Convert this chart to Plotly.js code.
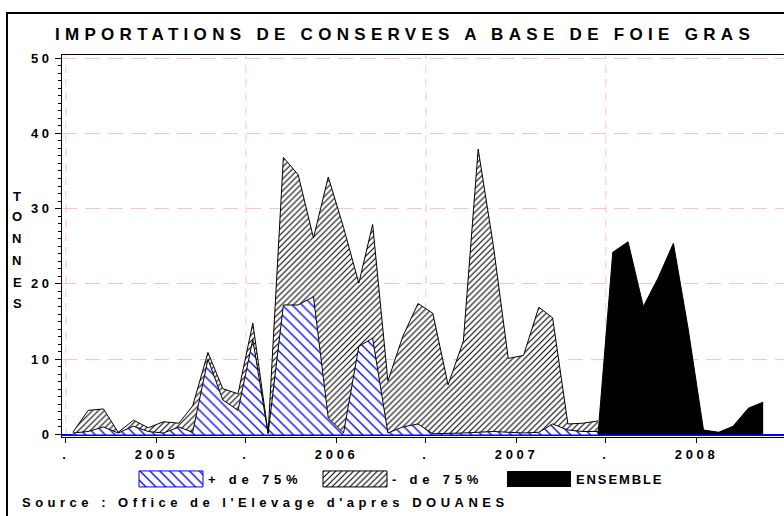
<!DOCTYPE html>
<html>
<head>
<meta charset="utf-8">
<script src="https://cdn.plot.ly/plotly-3.0.1.min.js"></script>
<style>
html, body { margin:0; padding:0; overflow:hidden; background:#fff; width:784px; height:516px; }
#chart { position:absolute; left:0; top:0; width:860px; height:540px; }
#frame { position:absolute; left:6px; top:12px; width:1000px; height:1000px; border:2px solid #000; pointer-events:none; }
#chart text { font-weight: 700 !important; }
.gtitle { letter-spacing: 5.3px; }
.ytick text { letter-spacing: 3.5px; }
.xtick text { letter-spacing: 3.7px; }
.legendtext { letter-spacing: 4.8px; }
.legend .traces:nth-of-type(3) .legendtext { letter-spacing: 1.9px; }
.annotation-text { letter-spacing: 4.5px; }
.legend .legendfill path { d: path("M1,-8h64v16h-64z"); }
.legend .traces:nth-of-type(1) .legendfill path { stroke:#0000ff !important; stroke-width:1px !important; stroke-opacity:1 !important; }
.legend .traces:nth-of-type(2) .legendfill path { stroke:#000 !important; stroke-width:1px !important; stroke-opacity:1 !important; }
.legend .legendlines path { display:none; }
</style>
</head>
<body>
<div id="chart"></div>
<div id="frame"></div>
<script>
// Months (monthly data, July 2004 - May 2008)
const months = [
  "2004-07","2004-08","2004-09","2004-10","2004-11","2004-12",
  "2005-01","2005-02","2005-03","2005-04","2005-05","2005-06",
  "2005-07","2005-08","2005-09","2005-10","2005-11","2005-12",
  "2006-01","2006-02","2006-03","2006-04","2006-05","2006-06",
  "2006-07","2006-08","2006-09","2006-10","2006-11","2006-12",
  "2007-01","2007-02","2007-03","2007-04","2007-05","2007-06",
  "2007-07","2007-08","2007-09","2007-10","2007-11","2007-12",
  "2008-01","2008-02","2008-03","2008-04","2008-05"
];
// "+ de 75%" (tonnes), 2004-07 .. 2007-06
const plus75 = [
  0.2, 0.4, 1.0, 0.2, 1.1, 0.4,
  0.2, 1.0, 0.3, 10.0, 4.6, 3.2,
  12.6, 0.1, 17.2, 17.2, 18.3, 2.2,
  0.2, 11.7, 12.8, 0.2, 1.0, 1.4,
  0.1, 0.1, 0.2, 0.3, 0.4, 0.3,
  0.2, 0.3, 1.4, 0.6, 0.4, 0.4
];
// "- de 75%" (tonnes), stacked on top, 2004-07 .. 2007-06
const minus75 = [
  0.1, 2.8, 2.4, 0.1, 0.8, 0.5,
  1.5, 0.5, 3.5, 0.9, 1.5, 2.2,
  2.2, 0.1, 19.6, 17.3, 7.8, 32.0,
  27.3, 8.4, 15.1, 6.9, 12.0, 16.0,
  16.0, 6.5, 12.2, 37.6, 24.6, 9.8,
  10.3, 16.6, 14.1, 0.8, 1.1, 1.4
];
// "ENSEMBLE" (tonnes), 2007-06 .. 2008-05
const ensemble = [0, 24.2, 25.6, 17.0, 20.8, 25.4, 14.0, 0.6, 0.3, 1.1, 3.5, 4.3];

// Axis ticks
const xTickVals = ["2004-07-01","2005-01-01","2005-07-01","2006-01-01","2006-07-01","2007-01-01","2007-07-01","2008-01-01"];
const xTickText = [".", "2005", ".", "2006", ".", "2007", ".", "2008"];
const xGridVals = ["2004-07-01","2005-07-01","2006-07-01","2007-07-01"];
const yTitleLetters = "TONNES";
const titleText = "IMPORTATIONS DE CONSERVES A BASE DE FOIE GRAS";
const sourceText = "Source : Office de l'Elevage d'apres DOUANES";
const seriesNames = ["+ de 75%", "- de 75%", "ENSEMBLE"];

const FONT = "Liberation Sans, Arial, sans-serif";
const PINK = "#ffc0cb";

const nSplit = plus75.length;
const xA = months.slice(0, nSplit).map(m => m + "-15");
const xB = months.slice(nSplit - 1).map(m => m + "-15");

const traces = [
  {
    type: "scatter", mode: "lines", name: seriesNames[0],
    x: xA, y: plus75, stackgroup: "s",
    line: {color: "#000", width: 1},
    fillcolor: "#0000ff",
    fillpattern: {shape: "\\", fgcolor: "#0000ff", bgcolor: "#ffffff", size: 7, solidity: 0.19},
    hoverinfo: "skip"
  },
  {
    type: "scatter", mode: "lines", name: seriesNames[1],
    x: xA, y: minus75, stackgroup: "s",
    line: {color: "#000", width: 1},
    fillcolor: "#000",
    fillpattern: {shape: "/", fgcolor: "#000000", bgcolor: "#ffffff", size: 4.2, solidity: 0.26},
    hoverinfo: "skip"
  },
  {
    type: "scatter", mode: "lines", name: seriesNames[2],
    x: xB, y: ensemble, fill: "tozeroy",
    line: {color: "#000", width: 1},
    fillcolor: "#000000",
    hoverinfo: "skip"
  }
];

const H = 540, MT = 55, MB = 103, ML = 62, MR = 50, W = 860;
const plotH = H - MT - MB, plotW = W - ML - MR;
const py = px => (H - MB - px) / plotH;   // pixel row -> paper y
const pxX = px => (px - ML) / plotW;      // pixel col -> paper x

const letterRows = [196, 217, 239, 260, 282, 303];
const BOLD = {family: FONT, size: 13, color: "#000", weight: 700};
const annotations = yTitleLetters.split("").map((ch, i) => ({
  text: ch, xref: "paper", yref: "paper",
  x: pxX(19), y: py(letterRows[i]), xanchor: "center", yanchor: "middle",
  showarrow: false, font: BOLD
}));
annotations.push({
  text: sourceText, xref: "paper", yref: "paper",
  x: pxX(20), y: py(502), xanchor: "left", yanchor: "middle",
  showarrow: false, font: BOLD
});

const shapes = xGridVals.map(d => ({
  type: "line", xref: "x", yref: "paper", x0: d, x1: d, y0: 0, y1: 1,
  layer: "below", line: {color: PINK, width: 1, dash: "8px,6px"}
}));

const layout = {
  width: W, height: H,
  margin: {l: ML, r: MR, t: MT, b: MB},
  paper_bgcolor: "#fff", plot_bgcolor: "#fff",
  font: BOLD,
  title: {
    text: titleText, xref: "container", yref: "container",
    x: 405 / W, y: 1 - 34 / H, xanchor: "center", yanchor: "middle",
    font: {family: FONT, size: 17, color: "#000", weight: 700}
  },
  showlegend: true,
  legend: {
    orientation: "h", xref: "container", yref: "container",
    x: 138 / W, y: 1 - 464 / H, xanchor: "left", yanchor: "top",
    itemwidth: 60, entrywidth: 109, traceorder: "normal",
    font: BOLD,
    bgcolor: "rgba(0,0,0,0)", borderwidth: 0
  },
  xaxis: {
    type: "date", range: ["2004-06-23", "2008-08-18"],
    tickmode: "array", tickvals: xTickVals, ticktext: xTickText,
    ticks: "outside", ticklen: 5, tickwidth: 1, tickcolor: "#000",
    showgrid: false, zeroline: false,
    showline: true, linecolor: "#000", linewidth: 1, mirror: true,
    tickfont: BOLD
  },
  yaxis: {
    range: [-0.33, 50.4], tickmode: "linear", tick0: 0, dtick: 10,
    ticks: "outside", ticklen: 6, tickwidth: 1, tickcolor: "#000",
    minor: {dtick: 1, tick0: 0, ticks: "outside", ticklen: 3, tickwidth: 1, tickcolor: "#000", showgrid: false},
    showgrid: true, gridcolor: PINK, gridwidth: 1, griddash: "15px,8px",
    zeroline: true, zerolinecolor: "#0000ff", zerolinewidth: 2,
    showline: true, linecolor: "#000", linewidth: 1, mirror: true,
    tickfont: BOLD
  },
  shapes: shapes,
  annotations: annotations
};

Plotly.newPlot("chart", traces, layout, {displayModeBar: false, staticPlot: true});
</script>
</body>
</html>
